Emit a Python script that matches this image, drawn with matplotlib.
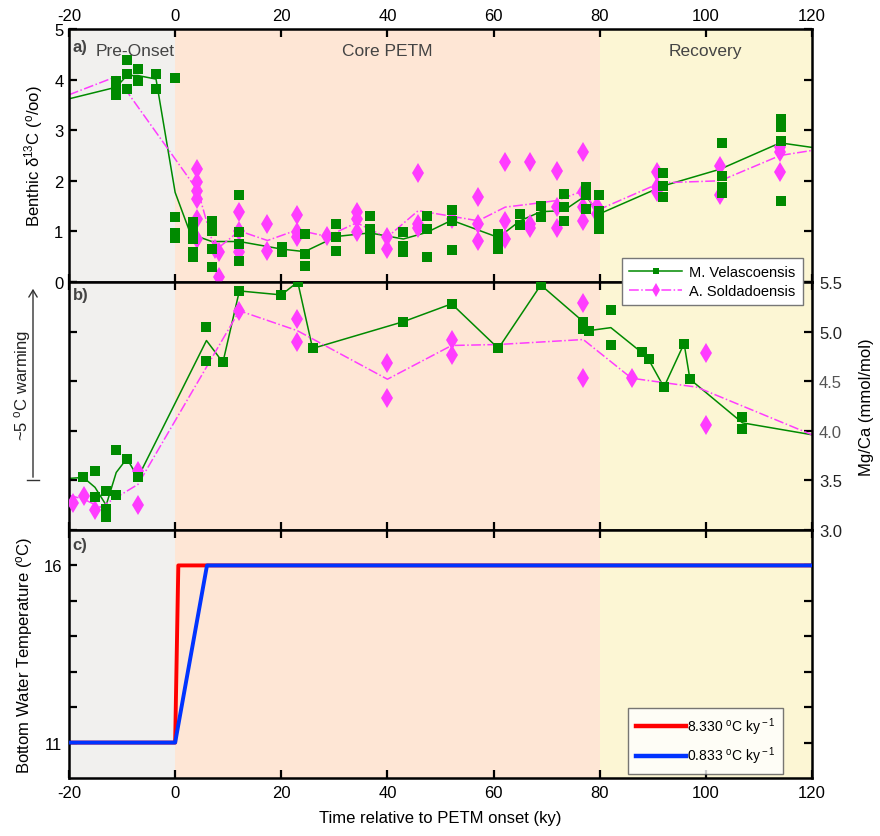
import matplotlib
matplotlib.use("Agg")
import matplotlib.pyplot as plt
from matplotlib.lines import Line2D

plt.rcParams['font.family'] = ['Liberation Sans', 'DejaVu Sans']
plt.rcParams['mathtext.fontset'] = 'custom'
plt.rcParams['mathtext.rm'] = 'Liberation Sans'
plt.rcParams['mathtext.it'] = 'Liberation Sans:italic'
plt.rcParams['axes.unicode_minus'] = False

# ---------------- data ----------------
stage_edges = [-20, 0, 80, 120]
stage_names = ["Pre-Onset", "Core PETM", "Recovery"]
stage_colors = ["#f1f0ee", "#fee6d5", "#fcf6d4"]

# panel a: benthic d13C
mv_a_x = [-11.1, -11.1, -11.1, -9.1, -9.1, -9.1, -7.0, -7.0, -3.6, -3.6,
          -0.1, -0.1, -0.1, -0.1, 3.3, 3.3, 3.3, 3.3, 3.3, 6.9, 6.9, 6.9, 6.9,
          12.1, 12.1, 12.1, 12.1, 20.1, 20.1, 24.4, 24.4, 24.4, 30.4, 30.4, 30.4,
          36.7, 36.7, 36.7, 36.7, 43.0, 43.0, 43.0, 47.4, 47.4, 47.4,
          52.1, 52.1, 52.1, 60.9, 60.9, 60.9, 65.0, 65.0, 68.9, 68.9,
          73.2, 73.2, 73.2, 77.4, 77.4, 77.4, 79.8, 79.8, 79.8, 79.8,
          92.0, 92.0, 92.0, 103.0, 103.0, 103.0, 103.0, 114.2, 114.2, 114.2, 114.2]
mv_a_y = [3.98, 3.78, 3.69, 4.39, 4.11, 3.81, 4.21, 3.98, 4.11, 3.81,
          4.03, 1.28, 0.97, 0.87, 1.18, 1.05, 0.85, 0.59, 0.49, 1.21, 1.01, 0.65, 0.29,
          1.71, 0.98, 0.75, 0.42, 0.69, 0.59, 0.95, 0.55, 0.32, 1.15, 0.88, 0.62,
          1.30, 1.05, 0.85, 0.65, 0.98, 0.72, 0.59, 1.30, 1.05, 0.49,
          1.43, 1.21, 0.64, 0.95, 0.78, 0.65, 1.34, 1.13, 1.51, 1.28,
          1.74, 1.48, 1.21, 1.87, 1.71, 1.44, 1.71, 1.41, 1.24, 1.05,
          2.15, 1.90, 1.67, 2.75, 2.10, 1.87, 1.76, 3.23, 3.06, 2.79, 1.61]
mv_a_line_x = [-20, -11.1, -9.1, -7.0, -3.6, 0, 2.9, 6.9, 12.1, 20.1, 24.4, 30.4,
               36.7, 43.0, 47.4, 52.1, 60.9, 65.0, 68.9, 73.2, 77.4, 79.8, 92.0,
               102.7, 114.0, 120]
mv_a_line_y = [3.62, 3.85, 4.08, 4.08, 4.01, 1.77, 0.95, 0.80, 0.80, 0.65, 0.60, 0.90,
               0.97, 0.85, 0.98, 1.22, 0.88, 1.21, 1.39, 1.41, 1.71, 1.34, 1.90,
               2.23, 2.75, 2.66]

as_a_x = [4.2, 4.2, 4.2, 4.2, 4.2, 4.2, 7.6, 8.2, 8.2, 12.1, 12.1, 12.1, 17.4, 17.4,
          23.0, 23.0, 23.0, 28.6, 34.2, 34.2, 34.2, 39.9, 39.9, 45.8, 45.8, 45.8,
          52.1, 57.1, 57.1, 57.1, 62.2, 62.2, 62.2, 66.9, 66.9, 66.9,
          71.9, 71.9, 71.9, 76.9, 76.9, 76.9, 76.9, 79.4, 79.4,
          90.7, 90.7, 90.7, 102.7, 102.7, 114.0, 114.0, 114.0]
as_a_y = [2.23, 1.97, 1.80, 1.64, 1.25, 0.85, 0.65, 0.59, 0.09, 1.39, 1.01, 0.59, 1.15, 0.62,
          1.32, 0.98, 0.88, 0.90, 1.38, 1.25, 0.98, 0.88, 0.65, 2.15, 1.15, 1.06,
          1.24, 1.67, 1.15, 0.82, 2.38, 1.21, 0.85, 2.38, 1.15, 1.06,
          2.20, 1.48, 1.06, 2.56, 1.77, 1.48, 1.21, 1.51, 1.34,
          2.18, 1.87, 1.77, 2.30, 1.71, 2.66, 2.56, 2.18]
as_a_line_x = [-20, -11.1, 4.3, 7.5, 12.1, 17.4, 23.0, 28.6, 34.2, 39.9, 45.8, 57.1,
               62.2, 66.9, 71.9, 76.9, 79.4, 91.4, 102.7, 114.0, 120]
as_a_line_y = [3.70, 4.06, 1.80, 0.62, 1.01, 0.82, 1.03, 0.90, 1.17, 0.88, 1.41, 1.21,
               1.48, 1.54, 1.61, 1.80, 1.41, 1.96, 2.00, 2.50, 2.60]

# panel b: Mg/Ca
mv_b_x = [-17.3, -15.1, -15.1, -13.0, -13.0, -13.0, -11.1, -11.1, -9.1, -7.0,
          5.9, 5.9, 9.0, 12.1, 20.0, 23.1, 25.9, 43.0, 52.1, 60.9, 68.9,
          76.9, 76.9, 78.0, 82.1, 82.1, 87.9, 89.2, 92.1, 95.9, 97.0, 106.9, 106.9]
mv_b_y = [3.53, 3.59, 3.33, 3.39, 3.21, 3.13, 3.81, 3.35, 3.72, 3.53,
          5.05, 4.70, 4.69, 5.41, 5.37, 5.50, 4.83, 5.10, 5.28, 4.83, 5.47,
          5.10, 5.03, 5.01, 5.22, 4.86, 4.79, 4.72, 4.44, 4.88, 4.52, 4.14, 4.02]
mv_b_line_x = [-20, -17.3, -15.1, -13.0, -11.1, -9.1, -7.0, 5.9, 9.0, 12.1, 20.0,
               23.1, 25.9, 43.0, 52.1, 60.9, 68.9, 76.9, 78.0, 82.1, 87.9, 89.2,
               92.1, 95.9, 97.0, 106.9, 120]
mv_b_line_y = [3.52, 3.53, 3.43, 3.25, 3.58, 3.72, 3.53, 4.91, 4.69, 5.41, 5.37,
               5.50, 4.83, 5.10, 5.28, 4.83, 5.47, 5.10, 5.01, 5.04, 4.79, 4.72,
               4.44, 4.88, 4.52, 4.08, 3.96]

as_b_x = [-19.2, -17.2, -15.1, -7.0, -7.0, 12.1, 23.0, 23.0, 40.0, 40.0,
          52.1, 52.1, 76.9, 76.9, 86.0, 100.0, 100.0]
as_b_y = [3.27, 3.34, 3.20, 3.59, 3.25, 5.21, 5.13, 4.90, 4.68, 4.33,
          4.92, 4.76, 5.29, 4.53, 4.53, 4.78, 4.06]
as_b_line_x = [-20, -17.2, -14.1, -7.0, 12.1, 23.0, 40.0, 52.1, 60.9, 76.9, 86.0, 98.3, 120]
as_b_line_y = [3.35, 3.31, 3.23, 3.46, 5.21, 5.01, 4.52, 4.86, 4.87, 4.92, 4.53, 4.44, 3.96]

# panel c: bottom water temperature scenarios
fast_x = [-20, 0, 0.6, 120]
fast_y = [11, 11, 16, 16]
slow_x = [-20, 0, 6.0, 120]
slow_y = [11, 11, 16, 16]
fast_label = "8.330 $^{\\rm o}$C ky$^{\\rm -1}$"
slow_label = "0.833 $^{\\rm o}$C ky$^{\\rm -1}$"

xticks = [-20, 0, 20, 40, 60, 80, 100, 120]

# ---------------- figure ----------------
W, H = 880, 837
fig = plt.figure(figsize=(W / 100, H / 100), dpi=100)

def fx(px):
    return px / W

def fy(py):
    return 1 - py / H

L, R = 69, 812
ax_a = fig.add_axes([fx(L), fy(283), fx(R) - fx(L), fy(30) - fy(283)])
ax_b = fig.add_axes([fx(L), fy(531), fx(R) - fx(L), fy(283) - fy(531)])
ax_c = fig.add_axes([fx(L), fy(779), fx(R) - fx(L), fy(531) - fy(779)])

GREEN = "#008a00"
MAG = "#ff3cff"
TXT = "#222222"
FS = 12

for ax in (ax_a, ax_b, ax_c):
    for i in range(3):
        ax.axvspan(stage_edges[i], stage_edges[i + 1], color=stage_colors[i], zorder=0, lw=0)
    ax.set_xlim(-20, 120)
    ax.set_xticks(xticks)
    for s in ax.spines.values():
        s.set_linewidth(1.8)
    ax.tick_params(direction='in', length=6, width=1.6, labelsize=FS,
                   top=True, bottom=True, left=True, right=True,
                   labelbottom=False, labeltop=False)

sq = dict(marker='s', ms=6.5, color=GREEN, ls='none', mec=GREEN, mew=0, zorder=3)
dm = dict(marker='d', ms=10.5, color=MAG, ls='none', mec=MAG, mew=0, zorder=3)

# panel a
ax_a.plot(mv_a_line_x, mv_a_line_y, color=GREEN, lw=1.1, zorder=2)
ax_a.plot(as_a_line_x, as_a_line_y, color=MAG, lw=1.1, ls='-.', zorder=2)
ax_a.plot(as_a_x, as_a_y, **dm)
ax_a.plot(mv_a_x, mv_a_y, **sq)
ax_a.set_ylim(0, 5)
ax_a.set_yticks([0, 1, 2, 3, 4, 5])
ax_a.tick_params(labeltop=True, labelleft=True, labelright=False, pad=4)
ax_a.set_ylabel("Benthic δ$^{13}$C ($^{\\rm o}$/oo)", fontsize=FS)
ax_a.yaxis.set_label_coords(-0.032, 0.5)
ax_a.text(-19.3, 4.66, "a)", fontsize=FS, fontweight='bold', color='#444444', va='center')
stage_x = [-7.6, 40, 100]
for sx, name in zip(stage_x, stage_names):
    ax_a.text(sx, 4.58, name, fontsize=12.5, color='#444444', ha='center', va='center')

# panel b
ax_b.plot(mv_b_line_x, mv_b_line_y, color=GREEN, lw=1.1, zorder=2)
ax_b.plot(as_b_line_x, as_b_line_y, color=MAG, lw=1.1, ls='-.', zorder=2)
ax_b.plot(as_b_x, as_b_y, **dm)
ax_b.plot(mv_b_x, mv_b_y, **sq)
ax_b.set_ylim(3.0, 5.5)
ax_b.set_yticks([3.0, 3.5, 4.0, 4.5, 5.0, 5.5])
ax_b.yaxis.set_major_formatter(matplotlib.ticker.FormatStrFormatter('%.1f'))
ax_b.tick_params(labelleft=False, labelright=True, pad=5)
for lab, val in zip(ax_b.get_yticklabels(), [3.0, 3.5, 4.0, 4.5, 5.0, 5.5]):
    lab.set_color('#555555' if val in (4.0, 4.5) else TXT)
ax_b.yaxis.set_label_position('right')
ax_b.set_ylabel("Mg/Ca (mmol/mol)", fontsize=FS)
ax_b.yaxis.set_label_coords(1.063, 0.5)
ax_b.text(-19.3, 5.37, "b)", fontsize=FS, fontweight='bold', color='#444444', va='center')

# warming arrow
fig.add_artist(Line2D([fx(27), fx(39)], [fy(481), fy(481)], color='#333333', lw=1.0))
fig.add_artist(matplotlib.patches.FancyArrowPatch(
    (fx(33), fy(481)), (fx(33), fy(287)), transform=fig.transFigure,
    arrowstyle='->,head_length=5,head_width=3', color='#333333', lw=1.0))
fig.text(fx(22.5), fy(385), "~5 $^{\\rm o}$C warming", rotation=90, fontsize=FS,
         ha='center', va='center', color=TXT)

# panel c
ax_c.plot(fast_x, fast_y, color='#ff0000', lw=2.8, label=fast_label, zorder=2)
ax_c.plot(slow_x, slow_y, color='#0033ff', lw=2.8, label=slow_label, zorder=3)
ax_c.set_ylim(10, 17)
ax_c.set_yticks([11, 12, 13, 14, 15, 16])
ax_c.set_yticklabels(["11", "", "", "", "", "16"])
ax_c.tick_params(labelbottom=True, labelleft=True, pad=5)
ax_c.set_ylabel("Bottom Water Temperature ($^{\\rm o}$C)", fontsize=FS)
ax_c.yaxis.set_label_coords(-0.046, 0.5)
ax_c.set_xlabel("Time relative to PETM onset (ky)", fontsize=FS)
ax_c.xaxis.set_label_coords(0.5, -0.13)
ax_c.text(-19.3, 16.6, "c)", fontsize=FS, fontweight='bold', color='#444444', va='center')
leg_c = ax_c.legend(loc='upper left', bbox_to_anchor=(fx(628), fy(709)),
                    bbox_transform=fig.transFigure, fontsize=10, frameon=True,
                    fancybox=False, edgecolor='#555555', handlelength=3.6,
                    handletextpad=0.1, borderpad=0.55, labelspacing=0.55,
                    borderaxespad=0)
leg_c.get_frame().set_linewidth(1.0)
for h in leg_c.get_lines():
    h.set_linewidth(3.2)

# legend for a/b
handles = [Line2D([], [], color=GREEN, lw=1.1, marker='s', ms=5, mew=0),
           Line2D([], [], color=MAG, lw=1.1, ls='-.', marker='d', ms=7, mew=0)]
leg = fig.legend(handles, ["M. Velascoensis", "A. Soldadoensis"],
                 loc='upper left', bbox_to_anchor=(fx(622), fy(259)),
                 fontsize=10.5, frameon=True, fancybox=False, edgecolor='#777777',
                 handlelength=3.6, handletextpad=0.5, borderpad=0.5, labelspacing=0.3,
                 framealpha=1, borderaxespad=0)
leg.get_frame().set_linewidth(1.0)

fig.savefig("out.png", dpi=100)
